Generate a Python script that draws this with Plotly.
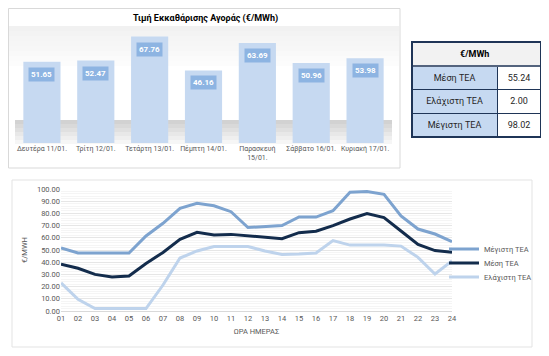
import plotly.graph_objects as go

# page body has an 8px margin, so the figure is drawn 8px in from the window edge
OFF = 8
W, H = 549 - OFF, 356 - OFF

# ---------------- data ----------------
days = ["Δευτέρα 11/01.", "Τρίτη 12/01.", "Τετάρτη 13/01.", "Πέμπτη 14/01.",
        "Παρασκευή<br>15/01.", "Σάββατο 16/01.", "Κυριακή 17/01."]
day_prices = [51.65, 52.47, 67.76, 46.16, 63.69, 50.96, 53.98]

table_title = "€/MWh"
table_labels = ["Μέση ΤΕΑ", "Ελάχιστη ΤΕΑ", "Μέγιστη ΤΕΑ"]
table_values = ["55.24", "2.00", "98.02"]

hours = [f"{h:02d}" for h in range(1, 25)]
max_tea = [51.6, 47.5, 47.5, 47.3, 47.5, 61.5, 71.9, 84.2, 88.3, 86.3, 81.4, 68.4,
           68.9, 70.0, 77.1, 77.0, 82.2, 97.3, 98.02, 95.6, 77.9, 67.2, 63.1, 56.8]
mean_tea = [38.3, 35.0, 30.0, 27.8, 28.7, 39.0, 48.0, 58.7, 64.5, 62.3, 62.8, 61.5,
            60.8, 59.3, 64.2, 65.4, 70.0, 75.4, 79.8, 76.6, 65.6, 54.6, 49.5, 48.1]
min_tea = [23.0, 9.6, 2.0, 2.0, 2.0, 2.0, 21.3, 43.4, 49.2, 52.8, 52.8, 52.8,
           49.2, 46.4, 46.7, 47.5, 57.7, 54.0, 54.0, 54.0, 53.2, 44.0, 30.3, 41.0]

FONT = "Roboto"
GREY = "#595959"
NAVY = "#1F3557"


def px(x):
    return (x - OFF) / W


def py(y):
    return 1 - (y - OFF) / H


fig = go.Figure()

# ---------------- bar chart ----------------
fig.add_trace(go.Bar(
    x=days, y=day_prices, marker=dict(color="#C6D9F1", line=dict(width=0)),
    xaxis="x", yaxis="y", showlegend=False, hoverinfo="x+y"))

for d, v in zip(days, day_prices):
    fig.add_annotation(
        x=d, y=v, xref="x", yref="y", text=f"<b>{v:.2f}</b>", showarrow=False,
        xanchor="center", yanchor="top", yshift=-5, bgcolor="#8DB4E2", borderpad=2,
        font=dict(family=FONT, size=8, color="white"))

# ---------------- table ----------------
fig.add_trace(go.Table(
    domain=dict(x=[px(412), px(541)], y=[py(137), py(42)]),
    columnwidth=[85, 44],
    header=dict(values=["", ""], height=24,
                fill=dict(color="#F2F2F2"), line=dict(color="#F2F2F2", width=1)),
    cells=dict(values=[table_labels, table_values],
               fill=dict(color=[["#C6D9F1"] * 3, ["white"] * 3]),
               line=dict(color=NAVY, width=1),
               align="center", height=23.5,
               font=dict(family=FONT, size=9, color="#262626"))))

# ---------------- line chart ----------------
fig.add_trace(go.Scatter(x=hours, y=max_tea, name="Μέγιστη ΤΕΑ", mode="lines",
                         line=dict(color="#7DA3CF", width=3), xaxis="x2", yaxis="y2",
                         legend="legend"))
fig.add_trace(go.Scatter(x=hours, y=mean_tea, name="Μέση ΤΕΑ", mode="lines",
                         line=dict(color="#132C4C", width=3), xaxis="x2", yaxis="y2",
                         legend="legend2"))
fig.add_trace(go.Scatter(x=hours, y=min_tea, name="Ελάχιστη ΤΕΑ", mode="lines",
                         line=dict(color="#BED3EC", width=3), xaxis="x2", yaxis="y2",
                         legend="legend3"))

shapes = [
    # bar panel
    dict(type="rect", xref="paper", yref="paper", x0=px(8.5), x1=px(400), y0=py(168), y1=py(8.5),
         line=dict(color="#D9D9D9", width=1), fillcolor="white", layer="below"),
]
# soft top gradient of bar panel
for i in range(8):
    shapes.append(dict(type="rect", xref="paper", yref="paper", x0=px(9), x1=px(399),
                       y0=py(26 + 5 * (i + 1)), y1=py(26 + 5 * i), line=dict(width=0),
                       fillcolor=f"rgba(225,225,225,{0.45 - 0.05 * i:.2f})", layer="below"))
# floor shadow behind bars
for i in range(6):
    shapes.append(dict(type="rect", xref="paper", yref="paper", x0=px(15), x1=px(392),
                       y0=py(120 + 4 * (i + 1)), y1=py(120 + 4 * i), line=dict(width=0),
                       fillcolor=f"rgba(195,195,195,{0.75 - 0.12 * i:.2f})", layer="below"))
shapes += [
    # table frame
    dict(type="line", xref="paper", yref="paper", x0=px(412), x1=px(541), y0=py(66), y1=py(66),
         line=dict(color=NAVY, width=1.5)),
    dict(type="rect", xref="paper", yref="paper", x0=px(412), x1=px(541), y0=py(137), y1=py(42),
         line=dict(color=NAVY, width=2)),
    # line panel
    dict(type="rect", xref="paper", yref="paper", x0=px(12), x1=px(532), y0=py(347), y1=py(180),
         line=dict(color="#E3E3E3", width=1), fillcolor="white", layer="below"),
]

annotations = list(fig.layout.annotations) + [
    dict(xref="paper", yref="paper", x=px(205), y=py(18), xanchor="center", yanchor="middle",
         text="<b>Τιμή Εκκαθάρισης Αγοράς (€/MWh)</b>",
         showarrow=False, font=dict(family=FONT, size=9, color="#000000")),
    dict(xref="paper", yref="paper", x=px(474), y=py(54), xanchor="center", yanchor="middle",
         text=f"<b>{table_title}</b>",
         showarrow=False, font=dict(family=FONT, size=9, color="#000000")),
]

leg_common = dict(xanchor="left", yanchor="middle", font=dict(size=7.5, color=GREY),
                  itemwidth=30, bgcolor="rgba(0,0,0,0)")

fig.update_layout(
    width=W, height=H, margin=dict(l=0, r=0, t=0, b=0, autoexpand=False),
    paper_bgcolor="white", plot_bgcolor="rgba(0,0,0,0)",
    font=dict(family=FONT, size=8, color=GREY),
    bargap=0.31,
    shapes=shapes, annotations=annotations,
    xaxis=dict(domain=[px(15), px(392)], anchor="y", showgrid=False, showline=False,
               ticks="", tickangle=0, tickfont=dict(size=7, color=GREY), fixedrange=True,
               automargin=False),
    yaxis=dict(domain=[py(143), py(33)], anchor="x", range=[0, 70], visible=False),
    xaxis2=dict(domain=[px(61), px(452)], anchor="y2", showgrid=False, ticks="",
                showline=True, linecolor="#D9D9D9", linewidth=1, tickangle=0,
                tickfont=dict(size=7.5, color=GREY), automargin=False,
                title=dict(text="ΩΡΑ ΗΜΕΡΑΣ", font=dict(size=7.5, color=GREY), standoff=6)),
    yaxis2=dict(domain=[py(311), py(189)], anchor="x2", range=[0, 100], dtick=10,
                tickformat=".2f", showgrid=True, gridcolor="#E6E6E6", gridwidth=1,
                minor=dict(dtick=2, showgrid=True, gridcolor="#F5F5F5"), automargin=False,
                zeroline=False, ticks="", tickfont=dict(size=7.5, color=GREY),
                title=dict(text="€/MWH", font=dict(size=7.5, color=GREY), standoff=8)),
    legend=dict(x=px(444), y=py(249), **leg_common),
    legend2=dict(x=px(444), y=py(263), **leg_common),
    legend3=dict(x=px(444), y=py(277), **leg_common),
)

fig.write_html("out.html")
